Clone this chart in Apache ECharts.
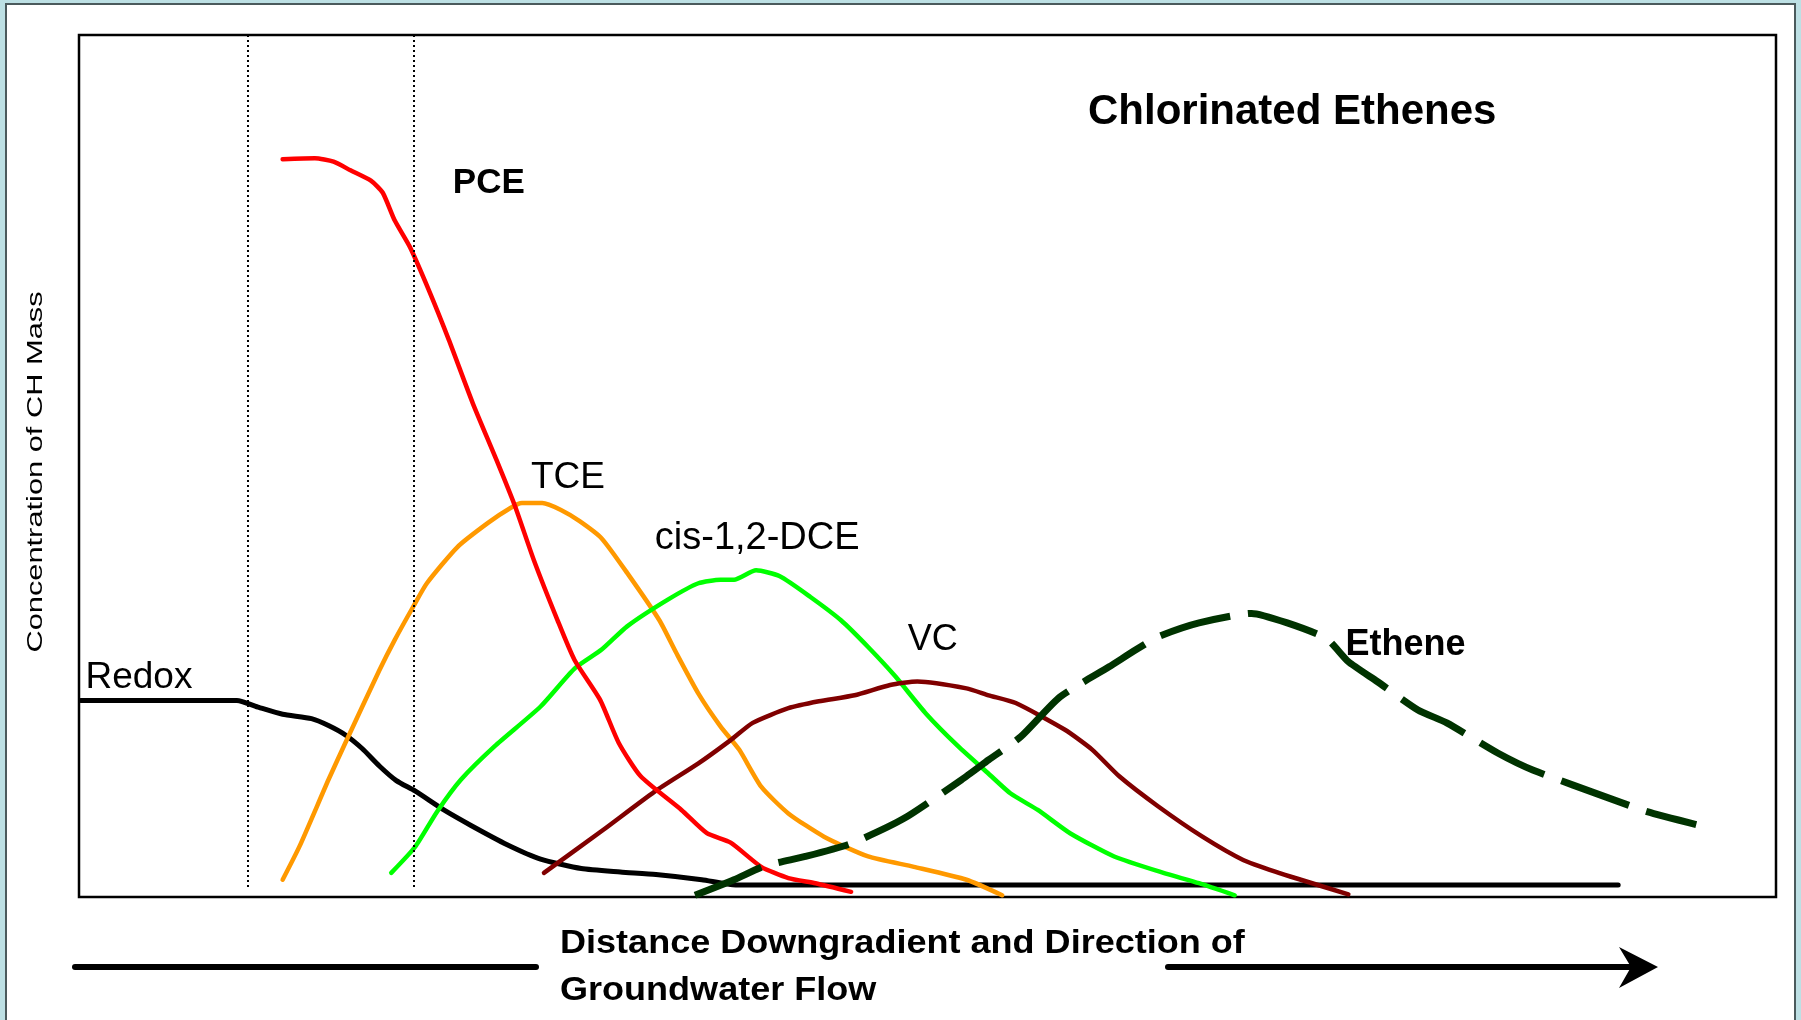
<!DOCTYPE html>
<html>
<head>
<meta charset="utf-8">
<title>Chlorinated Ethenes</title>
<script src="https://cdn.jsdelivr.net/npm/echarts@6.0.0/dist/echarts.min.js"></script>
<style>
  html, body { margin: 0; padding: 0; }
  #main { width: 1801px; height: 1020px; }
</style>
</head>
<body>
<div id="main"></div>
<script>
// distance downgradient (0-100) vs concentration (0-100), schematic
var redox = [[0.1, 22.8], [9.3, 22.8], [10.6, 22.0], [12.0, 21.2], [13.7, 20.7], [14.7, 19.9], [15.7, 18.8],
  [16.7, 17.2], [17.7, 15.2], [18.7, 13.5], [19.8, 12.3], [21.5, 10.1], [23.1, 8.3], [25.2, 6.1], [27.2, 4.4],
  [29.6, 3.3], [31.9, 2.9], [34.0, 2.6], [36.7, 2.0], [38.7, 1.4], [90.7, 1.4]];
var pce = [[12.0, 85.6], [13.9, 85.7], [15.0, 85.3], [16.0, 84.3], [17.2, 83.1], [17.9, 81.7], [18.6, 78.5],
  [19.5, 75.4], [20.7, 70.0], [21.8, 64.6], [23.2, 57.3], [24.6, 50.7], [25.7, 45.3], [26.8, 39.1], [28.2, 32.1],
  [29.2, 27.5], [30.7, 22.9], [31.8, 17.9], [33.1, 14.0], [35.5, 10.1], [37.0, 7.4], [38.4, 6.3], [40.2, 3.5],
  [41.8, 2.2], [43.4, 1.6], [45.5, 0.6]];
var tce = [[12.0, 2.0], [13.0, 5.9], [14.7, 13.6], [15.7, 17.9], [17.7, 26.3], [18.6, 29.8], [19.7, 33.7],
  [20.5, 36.4], [22.3, 40.6], [24.1, 43.4], [25.4, 45.1], [26.1, 45.7], [27.3, 45.7], [28.4, 44.9], [29.5, 43.6],
  [30.8, 41.6], [32.3, 37.6], [34.2, 32.1], [35.2, 28.3], [36.5, 23.6], [37.8, 19.8], [38.9, 17.1], [40.2, 12.8],
  [41.8, 9.7], [43.9, 7.0], [46.5, 4.7], [49.2, 3.5], [52.3, 2.0], [54.4, 0.2]];
var dce = [[18.4, 2.8], [19.8, 5.8], [21.1, 9.9], [22.5, 13.6], [24.5, 17.5], [27.2, 22.1], [29.2, 26.5],
  [30.8, 28.7], [32.3, 31.4], [34.7, 34.5], [36.5, 36.4], [37.8, 36.8], [38.6, 36.8], [39.9, 37.9], [41.3, 37.2],
  [43.1, 34.8], [44.9, 32.1], [46.5, 29.0], [48.1, 25.6], [49.9, 21.3], [51.8, 17.5], [53.6, 14.3], [54.9, 12.0],
  [56.5, 10.1], [58.4, 7.4], [61.0, 4.7], [63.9, 2.8], [66.0, 1.6], [68.1, 0.2]];
var vc = [[27.4, 2.8], [30.9, 7.8], [33.9, 12.2], [36.5, 15.5], [38.4, 18.2], [39.7, 20.2], [41.8, 21.9],
  [43.6, 22.7], [45.7, 23.4], [47.8, 24.6], [49.4, 25.0], [52.3, 24.2], [53.6, 23.4], [55.2, 22.5], [58.1, 19.4],
  [59.7, 17.1], [61.3, 14.0], [63.6, 10.5], [66.2, 7.0], [68.6, 4.3], [70.7, 2.8], [72.0, 2.0], [74.8, 0.3]];
var ethene = [[36.3, 0.2], [38.6, 2.0], [40.4, 3.6], [42.8, 4.7], [45.5, 6.2], [48.6, 9.1], [52.0, 13.6],
  [53.6, 15.9], [55.5, 18.6], [57.8, 23.2], [60.7, 26.7], [62.3, 28.7], [63.6, 30.2], [66.0, 31.8], [69.1, 32.9],
  [71.2, 31.8], [73.5, 30.0], [74.8, 27.3], [76.5, 25.0], [78.9, 21.7], [80.6, 20.2], [83.6, 16.7], [85.7, 14.7],
  [90.4, 11.3], [92.4, 9.9], [95.3, 8.4]];
var zoneEdges = [9.95, 19.7]; // dotted verticals

// where each curve name is written (left edge, middle of text)
var labelAt = {
  Redox: [0.35, 25.4],
  PCE: [22.0, 82.75],
  TCE: [26.6, 48.65],
  'cis-1,2-DCE': [33.9, 41.55],
  VC: [48.8, 29.85],
  Ethene: [74.6, 29.25]
};

var FAMILY = '"Liberation Sans", Arial, sans-serif';

function curve(name, data, color, width, opts) {
  opts = opts || {};
  return {
    name: name,
    type: 'line',
    data: data,
    showSymbol: false,
    symbol: 'none',
    smooth: 0.2,
    silent: true,
    lineStyle: {
      color: color,
      width: width,
      type: opts.dash || 'solid',
      cap: opts.dash ? 'butt' : 'round',
      join: 'round'
    },
    markPoint: {
      symbol: 'circle',
      symbolSize: 1,
      silent: true,
      itemStyle: { color: 'rgba(0,0,0,0)' },
      label: {
        show: true,
        position: 'right',
        distance: 0,
        formatter: name,
        color: '#000',
        fontFamily: FAMILY,
        fontSize: opts.fontSize || 37,
        fontWeight: opts.bold ? 'bold' : 'normal'
      },
      data: [{ coord: labelAt[name] }]
    },
    markLine: opts.markLine
  };
}

var chart = echarts.init(document.getElementById('main'));

var option = {
  animation: false,
  backgroundColor: '#bde0e4',
  title: {
    text: 'Chlorinated Ethenes',
    left: 1088,
    top: 91,
    padding: 0,
    textStyle: { fontFamily: FAMILY, fontSize: 42, fontWeight: 'bold', color: '#000' }
  },
  grid: {
    left: 79, top: 35, width: 1697, height: 862,
    show: true,
    backgroundColor: '#fff',
    borderColor: '#000',
    borderWidth: 2.5
  },
  xAxis: {
    type: 'value', min: 0, max: 100,
    axisLine: { show: false }, axisTick: { show: false },
    axisLabel: { show: false }, splitLine: { show: false }
  },
  yAxis: {
    type: 'value', min: 0, max: 100,
    axisLine: { show: false }, axisTick: { show: false },
    axisLabel: { show: false }, splitLine: { show: false }
  },
  graphic: [
    {
      type: 'rect', z: -100, silent: true,
      shape: { x: 6, y: 4, width: 1789, height: 1040 },
      style: { fill: '#fff', stroke: '#4b5a5c', lineWidth: 2 }
    },
    {
      type: 'text', x: 36, y: 472, rotation: Math.PI / 2, scaleX: 1.4, silent: true,
      style: {
        text: 'Concentration of CH Mass', font: '22px ' + FAMILY, fill: '#000',
        align: 'center', verticalAlign: 'middle'
      }
    },
    {
      type: 'text', x: 560, y: 967, scaleX: 1.06, silent: true,
      style: {
        text: 'Distance Downgradient and Direction of\nGroundwater Flow',
        font: 'bold 34px ' + FAMILY, lineHeight: 47, fill: '#000',
        align: 'left', verticalAlign: 'middle'
      }
    },
    {
      type: 'line', silent: true,
      shape: { x1: 75, y1: 967, x2: 536, y2: 967 },
      style: { stroke: '#000', lineWidth: 6, lineCap: 'round' }
    },
    {
      type: 'line', silent: true,
      shape: { x1: 1168, y1: 967, x2: 1630, y2: 967 },
      style: { stroke: '#000', lineWidth: 6, lineCap: 'round' }
    },
    {
      type: 'polygon', silent: true,
      shape: { points: [[1619, 947], [1658, 967], [1619, 988], [1631, 967]] },
      style: { fill: '#000' }
    }
  ],
  series: [
    curve('Redox', redox, '#000', 5, {
      markLine: {
        silent: true,
        symbol: 'none',
        label: { show: false },
        lineStyle: { color: '#000', width: 2, type: [2, 3] },
        data: zoneEdges.map(function (x) {
          return [{ coord: [x, 100] }, { coord: [x, 0.9] }];
        })
      }
    }),
    curve('TCE', tce, '#ff9900', 4.5),
    curve('cis-1,2-DCE', dce, '#00ff00', 4.5, { fontSize: 38 }),
    curve('VC', vc, '#800000', 4.5, { fontSize: 36 }),
    curve('PCE', pce, '#ff0000', 4.5, { bold: true, fontSize: 35 }),
    curve('Ethene', ethene, '#003300', 7, { bold: true, fontSize: 36, dash: [72, 18] })
  ]
};

chart.setOption(option);
</script>
</body>
</html>
